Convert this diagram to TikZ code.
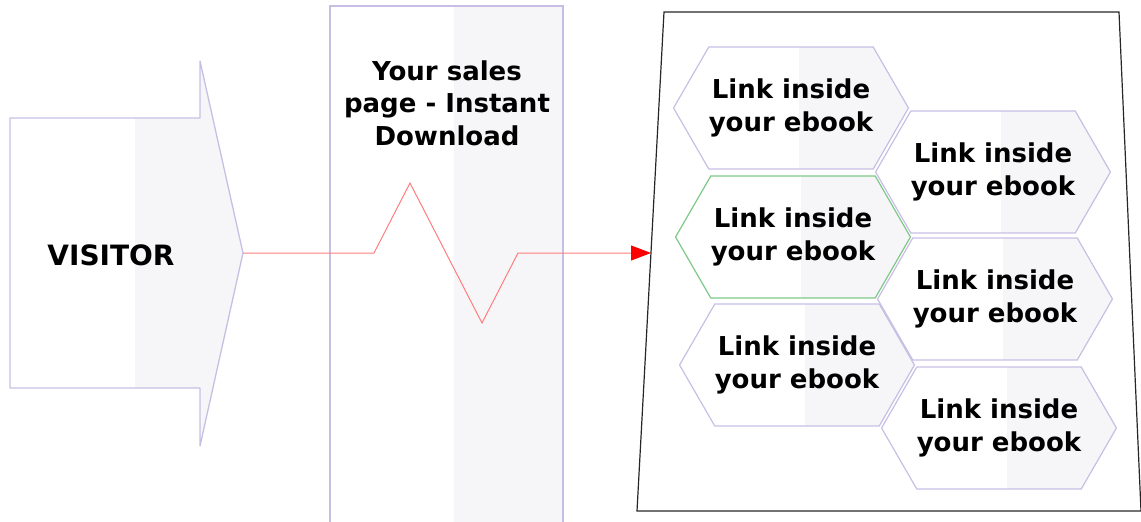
\documentclass[tikz,border=0pt]{standalone}
\usepackage{fontspec}
\setmainfont{DejaVu Sans}
\usetikzlibrary{shapes.symbols,arrows.meta}
\definecolor{lineviolet}{RGB}{200,190,228}
\definecolor{shadegray}{RGB}{246,246,249}
\definecolor{linkgreen}{RGB}{125,200,135}
\definecolor{zigred}{RGB}{255,125,125}
\tikzset{
  bigtext/.style={font=\bfseries\fontsize{26}{33}\selectfont, align=center},
  link/.style={signal, signal to=east and west, signal pointer angle=120,
    draw=lineviolet, line width=1.2pt, minimum width=231pt, minimum height=122pt,
    inner sep=0pt, bigtext,
    path picture={\fill[shadegray] ([xshift=8pt]path picture bounding box.north)
      rectangle (path picture bounding box.south east);}},
}
\begin{document}
\begin{tikzpicture}[x=1pt,y=-1pt]
  \useasboundingbox (0,0) rectangle (1141,522);
  % visitor arrow
  \begin{scope}
    \clip (10,118) -- (200,118) -- (200,61) -- (243,253) -- (200,446)
      -- (200,388) -- (10,388) -- cycle;
    \fill[shadegray] (135,0) rectangle (250,522);
  \end{scope}
  \draw[lineviolet, line width=1.3pt, line join=round]
    (10,118) -- (200,118) -- (200,61) -- (243,253) coordinate (visitortip)
    -- (200,446) -- (200,388) -- (10,388) -- cycle;
  \node[bigtext, font=\bfseries\fontsize{28}{33}\selectfont] (visitor) at (111,255) {VISITOR};
  % sales page column
  \fill[shadegray] (454,6) rectangle (563,522);
  \draw[lineviolet, line width=1.3pt] (330,522) -- (330,6) -- (563,6) -- (563,522);
  \node[bigtext, font=\bfseries\fontsize{26}{32.5}\selectfont] (salespage) at (447,103)
    {Your sales\\page - Instant\\Download};
  % ebook page
  \draw[black!85, line width=1.2pt] (664,12) -- (1119,12) -- (1141,511) -- (637,511) -- cycle;
  \coordinate (pageentry) at (651,253);
  \node[link] (link1) at (791,108) {Link inside\\your ebook};
  \node[link] (link2) at (993,172) {Link inside\\your ebook};
  \node[link, draw=linkgreen] (link3) at (793,237) {Link inside\\your ebook};
  \node[link] (link4) at (995,299) {Link inside\\your ebook};
  \node[link] (link5) at (797,365) {Link inside\\your ebook};
  \node[link] (link6) at (999,428) {Link inside\\your ebook};
  \begin{scope}[zigred, line width=1pt]
    \draw[-{Triangle[color=red, length=20pt, width=15pt]}]
      (visitortip) -- (374,253) -- (410,183) -- (482,323) -- (518,253) -- (pageentry);
  \end{scope}
\end{tikzpicture}
\end{document}
